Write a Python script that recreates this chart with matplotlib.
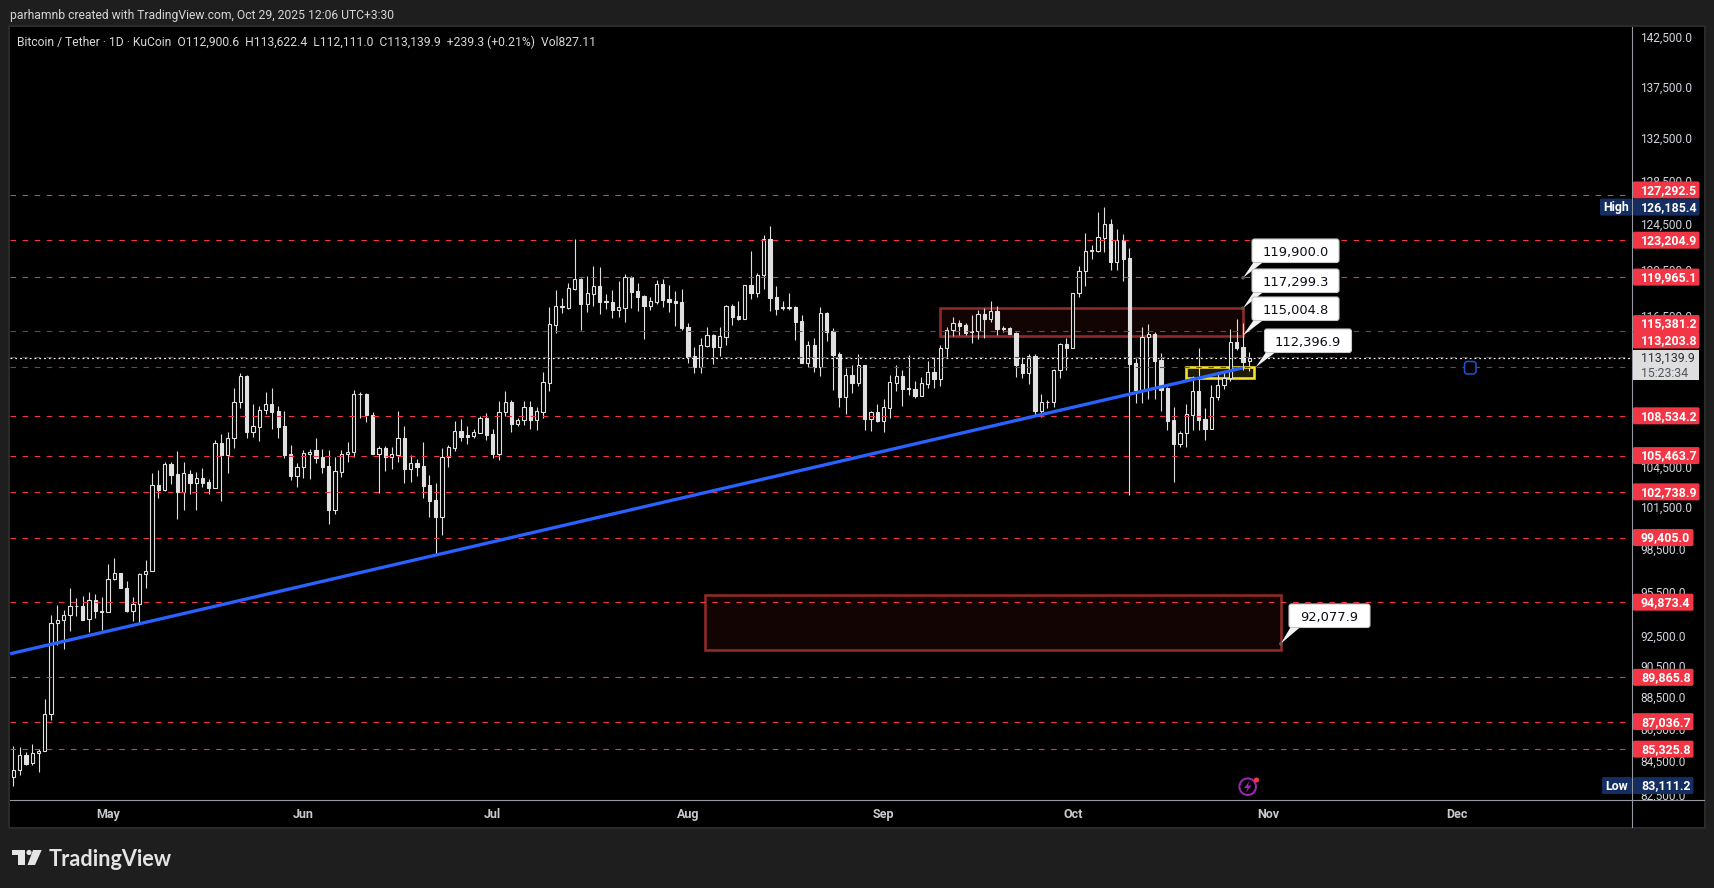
"""
BTC/USDT daily chart (KuCoin), TradingView style, with marked levels and zones
"""

import matplotlib
matplotlib.use("Agg")
import matplotlib.pyplot as plt
import matplotlib.dates as mdates
import numpy as np
import pandas as pd
from matplotlib.patches import Circle, FancyBboxPatch, Polygon, Rectangle
from matplotlib.ticker import NullLocator
from matplotlib.transforms import ScaledTranslation

plt.rcParams["font.family"] = ["Roboto", "DejaVu Sans"]

# ── Data ──────────────────────────────────────────────
START_DATE = "2025-04-16"

OPENS = [
    83612, 84041, 84959, 84449, 85081, 85204, 87540, 93471, 93671, 94005,
    94584, 94606, 93738, 95015, 94183, 94205, 96501, 96926, 95864, 94272,
    94740, 96855, 97043, 103230, 102906, 104810, 104077, 102758, 104052, 103427,
    103752, 103452, 103055, 106409, 105540, 106793, 109603, 111680, 107310, 107696,
    108974, 109445, 108895, 107722, 105565, 103952, 104580, 105616, 105871, 105337,
    104655, 101432, 104252, 105565, 105718, 110240, 110240, 108607, 105616, 106025,
    105388, 105540, 106793, 104478, 104908, 104655, 103229, 102118, 100922, 105337,
    106076, 107335, 107025, 107000, 107232, 108345, 107103, 105616, 108817, 109603,
    107929, 108188, 109210, 108214, 108869, 111172, 115926, 117385, 117357, 118976,
    119781, 117694, 118549, 119176, 117865, 117836, 117188, 117357, 119955, 118777,
    118321, 117525, 117865, 119349, 118064, 117893, 117808, 115731, 113304, 112463,
    114181, 115034, 114098, 114923, 117469, 116624, 116427, 119262, 118634, 120128,
    123318, 118235, 117357, 117357, 117385, 116204, 112787, 114209, 112435, 116877,
    115368, 113467, 110054, 111762, 111145, 112572, 108319, 108817, 108162, 109184,
    111172, 111682, 110691, 110664, 110134, 111091, 112003, 111467, 113962, 115451,
    116038, 115898, 115340, 115368, 116793, 116427, 117047, 115590, 115618, 115200,
    112679, 111977, 113304, 108948, 109603, 109603, 112164, 114290, 114016, 118577,
    120474, 122226, 122285, 123436, 124631, 121319, 123260, 121611, 112762, 110612,
    114923, 115118, 112978, 110744, 108188, 106383, 107180, 108633, 110479, 108266,
    107541, 110054, 110957, 111521, 114511, 114043, 112900.6,
]
HIGHS = [
    85536, 85473, 85163, 85662, 85326, 88486, 94005, 94673, 94361, 95817,
    95156, 95298, 95581, 95439, 95227, 97516, 97918, 96926, 96360, 95227,
    96926, 97776, 104150, 104380, 104958, 104960, 105820, 104960, 104377, 104227,
    104529, 103677, 106665, 107128, 107280, 110744, 111923, 111790, 109472, 109314,
    110426, 110744, 109314, 108895, 106281, 104908, 105897, 105974, 106818, 105974,
    105897, 105363, 105897, 106486, 110585, 110426, 110320, 108843, 106204, 106204,
    106102, 108895, 107748, 105489, 105211, 106486, 104002, 103377, 106025, 106281,
    108136, 108293, 107748, 107490, 108528, 108764, 107490, 109683, 110479, 109762,
    108345, 109683, 109683, 109236, 112000, 117385, 118862, 118178, 119435, 123318,
    119896, 120070, 120939, 120852, 118520, 118862, 119636, 120215, 120070, 119435,
    118406, 118235, 119696, 119783, 119291, 118777, 118948, 116065, 114071, 114785,
    115731, 115118, 115731, 117553, 117666, 117921, 119262, 122253, 120301, 123675,
    124482, 119205, 117921, 118606, 117497, 116736, 114566, 114813, 117385, 116990,
    115646, 113632, 112354, 112599, 113495, 112572, 108948, 109472, 109868, 111790,
    112599, 112191, 113413, 111306, 111628, 112925, 113250, 114236, 115700, 116596,
    116315, 116093, 116736, 117160, 117300, 117893, 117497, 115843, 115759, 115342,
    113277, 113495, 113467, 110267, 109789, 112272, 114373, 114785, 118577, 120939,
    123820, 122787, 125720, 126185.4, 125110, 124183, 123764, 122492, 113140, 115701,
    115954, 115342, 113549, 110850, 109210, 107387, 109472, 111708, 113962, 109131,
    110984, 112057, 112057, 115535, 116371, 116037, 113622.4,
]
LOWS = [
    83111.2, 83776, 84326, 84367, 83918, 85204, 87142, 91980, 91714, 92915,
    93916, 93649, 92848, 93783, 92982, 94205, 96407, 95841, 94183, 93582,
    93449, 95841, 97000, 102320, 102832, 103330, 100776, 101432, 102586, 101432,
    103104, 102586, 103055, 102067, 104177, 106050, 109157, 106820, 106895, 106588,
    108686, 107515, 106820, 105287, 103627, 103104, 103777, 103702, 104908, 104152,
    100389, 101115, 103852, 104984, 105363, 108371, 108059, 105590, 102660, 104302,
    104453, 105008, 103402, 103502, 103927, 102291, 100922, 98166, 99594, 104605,
    105846, 106588, 106358, 106818, 107180, 106665, 105287, 105135, 108502, 107283,
    107748, 107825, 107515, 107438, 108371, 110505, 115229, 116905, 117272, 118891,
    115470, 116990, 117497, 116821, 117244, 116484, 116568, 116148, 117328, 117075,
    114730, 117160, 117638, 117413, 116990, 115815, 115479, 112762, 111950, 111950,
    114071, 112680, 113331, 114236, 115898, 116315, 116427, 118093, 118235, 118948,
    117075, 116736, 117160, 117160, 114648, 112787, 112434, 112030, 111708, 114566,
    110585, 109236, 108686, 110346, 110904, 107438, 107361, 108059, 107283, 108371,
    110505, 109314, 110187, 109948, 110107, 110718, 110744, 110932, 113170, 115006,
    115088, 115061, 114428, 114730, 114785, 116120, 115061, 115312, 115145, 111654,
    111521, 111064, 108607, 108476, 109131, 109262, 111574, 112191, 114016, 118235,
    119205, 121553, 122138, 122197, 120589, 120589, 119667, 102512, 109577, 109577,
    109868, 109868, 108948, 107437, 103502, 106153, 106153, 107437, 107437, 106665,
    107541, 109789, 110664, 111333, 113824, 112191, 112111.0,
]
CLOSES = [
    84041, 84959, 84428, 85081, 85204, 87540, 93471, 93649, 93983, 94606,
    94606, 93694, 95015, 94250, 94272, 96501, 96926, 95841, 94250, 94740,
    96855, 97043, 103230, 102880, 104807, 104027, 102709, 104127, 103427, 103752,
    103427, 103055, 106409, 105515, 106793, 109603, 111682, 107310, 107722, 108974,
    109445, 108869, 107696, 105515, 103952, 104579, 105641, 105769, 105312, 104630,
    101432, 104277, 105565, 105718, 110240, 110267, 108607, 105616, 106025, 105388,
    105565, 106793, 104478, 104883, 104630, 103204, 102092, 100922, 105363, 106102,
    107335, 106921, 106921, 107258, 108345, 107077, 105616, 108817, 109603, 107903,
    108188, 109210, 108214, 108895, 111198, 115954, 117469, 117469, 119005, 119781,
    117694, 118577, 119176, 117865, 117893, 117188, 117385, 119955, 118720, 118264,
    117497, 117893, 119349, 118007, 117836, 117780, 115676, 113247, 112462, 114209,
    115034, 114098, 114951, 117469, 116596, 116399, 119262, 118606, 120128, 123318,
    118178, 117244, 117385, 117385, 116176, 112787, 114209, 112435, 116877, 115340,
    113413, 110054, 111762, 111145, 112572, 108293, 108817, 108136, 109210, 111198,
    111682, 110691, 110718, 110107, 111118, 112003, 111467, 113962, 115451, 116038,
    115843, 115200, 115368, 116821, 116399, 117047, 115590, 115618, 115173, 112598,
    111977, 113304, 108948, 109603, 109630, 112164, 114290, 114016, 118577, 120474,
    122226, 122315, 123466, 124631, 121319, 123260, 121553, 112708, 110585, 114923,
    115118, 112951, 110612, 108162, 106383, 107180, 108659, 110479, 108240, 107541,
    110054, 110957, 111521, 114511, 114016, 112869, 113139.9,
]

LEVELS = [127292.5, 123204.9, 119965.1, 115381.2, 113203.8, 108534.2, 105463.7,
          102738.9, 99405.0, 94873.4, 89865.8, 87036.7, 85325.8]
DIM_LEVELS = [115381.2, 113203.8, 112396.9]
UNLABELLED_LEVEL = 112396.9
LAST_PRICE = 113139.9
HIGH_PRICE = 126185.4
LOW_PRICE = 83111.2

PRICE_TICKS = [142500, 137500, 132500, 128500, 124500, 120500, 116500, 104500,
               101500, 98500, 95500, 92500, 90500, 88500, 86500, 84500, 82500]
MONTH_TICKS = ["2025-05-01", "2025-06-01", "2025-07-01", "2025-08-01",
               "2025-09-01", "2025-10-01", "2025-11-01", "2025-12-01"]
MONTH_LABELS = ["May", "Jun", "Jul", "Aug", "Sep", "Oct", "Nov", "Dec"]

TREND_DATES = ["2025-04-15 12:00", "2025-10-28"]
TREND_PRICES = [91407, 112360]

RED_ZONE_DATES = ["2025-09-10", "2025-10-28"]
RED_ZONE_PRICES = [115004.8, 117299.3]
LOW_ZONE_DATES = ["2025-08-03 16:00", "2025-11-03"]
LOW_ZONE_PRICES = [91670, 95380]
YELLOW_ZONE_DATES = ["2025-10-19", "2025-10-29 18:00"]
YELLOW_ZONE_PRICES = [111500, 112396.9]

HEADER = "parhamnb created with TradingView.com, Oct 29, 2025 12:06 UTC+3:30"
LEGEND = ("Bitcoin / Tether · 1D · KuCoin  O112,900.6  H113,622.4  L112,111.0  "
          "C113,139.9  +239.3 (+0.21%)  Vol827.11")

# ── Style ─────────────────────────────────────────────
W, H = 1714, 888
BG = "#1e1e1e"
BODY = "#e0e0e0"
RED = "#f23645"
DIM_RED = "#b02a36"
NAVY = "#142e61"
AXIS_LINE = "#9598a1"
TICK_TEXT = "#d1d4dc"
PLOT_L, PLOT_R, PLOT_T, PLOT_B = 10, 1632, 27, 800
PX = 0.72  # one pixel in points at dpi 100

fig = plt.figure(figsize=(W / 100, H / 100), dpi=100, facecolor=BG)
fig.add_artist(Rectangle((8.5 / W, 1 - 828 / H), 1696 / W, 802 / H, transform=fig.transFigure,
                         facecolor="black", edgecolor="#2a2a2a", linewidth=1.5, zorder=-1))

ax = fig.add_axes([PLOT_L / W, 1 - PLOT_B / H, (PLOT_R - PLOT_L) / W, (PLOT_B - PLOT_T) / H], zorder=1)
ax.set_facecolor("black")
ax.set_yscale("log")

dates = pd.date_range(START_DATE, periods=len(CLOSES), freq="D")
x = mdates.date2num(dates)
opens, highs, lows, closes = map(np.array, (OPENS, HIGHS, LOWS, CLOSES))


def num(day):
    return mdates.date2num(pd.Timestamp(day))


# ── Candles ───────────────────────────────────────────
ax.vlines(x, lows, highs, color=BODY, linewidth=1.1 * PX, zorder=2)
up = closes >= opens
body_low = np.minimum(opens, closes)
body_height = np.maximum(np.abs(closes - opens), 1)
ax.bar(x[up], body_height[up], bottom=body_low[up], width=0.52, facecolor="black",
       edgecolor=BODY, linewidth=1.1 * PX, zorder=3)
ax.bar(x[~up], body_height[~up], bottom=body_low[~up], width=0.52, facecolor=BODY,
       edgecolor=BODY, linewidth=1.1 * PX, zorder=3)


# ── Levels, zones, trendline ──────────────────────────
def add_zone(days, prices, edge, fill, zorder):
    left, right = num(days[0]), num(days[1])
    ax.add_patch(Rectangle((left, prices[0]), right - left, prices[1] - prices[0],
                           facecolor=fill, edgecolor=edge, linewidth=2.6 * PX, zorder=zorder))


add_zone(RED_ZONE_DATES, RED_ZONE_PRICES, "#8f2a28", "#130404", 1.5)
add_zone(LOW_ZONE_DATES, LOW_ZONE_PRICES, "#8f2a28", "#130404", 1.5)
add_zone(YELLOW_ZONE_DATES, YELLOW_ZONE_PRICES, "#f5e12c", "#1e1a05", 1.5)

for level in LEVELS + [UNLABELLED_LEVEL]:
    ax.axhline(level, color=DIM_RED if level in DIM_LEVELS else RED,
               linewidth=1.1 * PX, linestyle=(0, (5, 6)), zorder=4)
ax.axhline(LAST_PRICE, color="white", linewidth=1.2 * PX, linestyle=(0, (1.5, 2.5)), zorder=4.5)

ax.plot([num(d) for d in TREND_DATES], TREND_PRICES, color="#2962ff",
        linewidth=3.3 * PX, solid_capstyle="butt", zorder=5)

# ── Axes ──────────────────────────────────────────────
ax.set_xlim(x[0] - (13.3 - PLOT_L) / 6.306, x[0] + (PLOT_R - 13.3) / 6.306)
ax.set_ylim(82250, 143700)
for side in ax.spines:
    ax.spines[side].set_visible(False)

ax.yaxis.tick_right()
ax.yaxis.set_minor_locator(NullLocator())
ax.set_yticks(PRICE_TICKS, [f"{p:,.1f}" for p in PRICE_TICKS])
ax.tick_params(axis="y", length=0, pad=6, labelsize=8.6, labelcolor=TICK_TEXT)
nudge = ScaledTranslation(0, 1.5 / 100, fig.dpi_scale_trans)
for tick in ax.yaxis.get_major_ticks():
    tick.label2.set_transform(tick.label2.get_transform() + nudge)
ax.set_xticks([num(d) for d in MONTH_TICKS], MONTH_LABELS, fontweight="bold")
ax.xaxis.set_minor_locator(NullLocator())
ax.tick_params(axis="x", length=0, pad=5.5, labelsize=9, labelcolor="#c8cad0")

# ── Overlay in pixels: price tags, callouts, logo ─────
ov = fig.add_axes([0, 0, 1, 1], facecolor="none", zorder=5)
ov.set_axis_off()
ov.set_xlim(0, W)
ov.set_ylim(H, 0)


def to_px(day, price):
    px, py = ax.transData.transform((num(day), price))
    return px, H - py


def price_px(price):
    return to_px(START_DATE, price)[1]


ov.add_patch(Rectangle((PLOT_R, PLOT_B), 72, 27, facecolor="black", edgecolor="none", zorder=1))
ov.plot([PLOT_L, 1704], [PLOT_B, PLOT_B], color=AXIS_LINE, linewidth=1.1 * PX, zorder=2)
ov.plot([PLOT_R, PLOT_R], [PLOT_T, 827], color=AXIS_LINE, linewidth=1.1 * PX, zorder=2)

# 标签错开的价位（像素偏移）
TAG_SHIFT = {127292.5: -5, 115381.2: -7.5, 113203.8: -17.5}


def price_tag(price, fill, shift=0.0):
    yc = price_px(price) + shift
    text = f"{price:,.1f}"
    width = 66.5 if price >= 100000 else 60.5
    ov.add_patch(FancyBboxPatch((PLOT_R + 1, yc - 8.5), width, 17, boxstyle="round,pad=0,rounding_size=1.5",
                                facecolor=fill, edgecolor="none", zorder=4))
    ov.text(PLOT_R + 9, yc - 1, text, color="white", fontsize=8.9, fontweight="bold",
            ha="left", va="center_baseline", zorder=5)


for level in LEVELS:
    price_tag(level, RED, TAG_SHIFT.get(level, 0.0))

price_tag(HIGH_PRICE, NAVY)
price_tag(LOW_PRICE, NAVY)
for price, name, left in ((HIGH_PRICE, "High", 1600), (LOW_PRICE, "Low", 1602)):
    yc = price_px(price)
    ov.add_patch(FancyBboxPatch((left, yc - 8.5), PLOT_R - left, 17,
                                boxstyle="round,pad=0,rounding_size=1.5",
                                facecolor=NAVY, edgecolor="none", zorder=4))
    ov.text((left + PLOT_R) / 2, yc - 1, name, color="white", fontsize=8.9, fontweight="bold",
            ha="center", va="center_baseline", zorder=5)

# 现价标签
last_y = price_px(LAST_PRICE)
ov.add_patch(Rectangle((PLOT_R + 1, last_y - 8.5), 66.5, 30.5, facecolor="#dedede",
                       edgecolor="none", zorder=4))
ov.text(PLOT_R + 9, last_y - 1, f"{LAST_PRICE:,.1f}", color="#2a2e39", fontsize=8.8,
        ha="left", va="center_baseline", zorder=5)
ov.text(PLOT_R + 9, last_y + 13.5, "15:23:34", color="#50535e", fontsize=8.8,
        ha="left", va="center_baseline", zorder=5)


def callout(price, day, left, top, dot=False):
    ax_x, ax_y = to_px(day, price)
    box_w = 87 if price >= 100000 else 81
    right, bottom = left + box_w, top + 23.5
    ov.add_patch(Polygon([(left + 2, bottom - 1), (left + 12, bottom - 1), (ax_x, ax_y)],
                         closed=True, facecolor="#f2f2f2", edgecolor="none", zorder=6))
    ov.add_patch(FancyBboxPatch((left, top), right - left, bottom - top,
                                boxstyle="round,pad=0,rounding_size=2.5", facecolor="white",
                                edgecolor="#c8c8c8", linewidth=1.1 * PX, zorder=7))
    ov.text((left + right) / 2, (top + bottom) / 2, f"{price:,.1f}", color="#0c0f18",
            fontsize=9.4, family="DejaVu Sans", ha="center", va="center_baseline", zorder=8)
    if dot:
        ov.add_patch(Circle((ax_x, ax_y), 1.8, facecolor="#5a5a5a", edgecolor="none", zorder=6.5))


callout(119900.0, "2025-10-28", 1252, 239, dot=True)
callout(117299.3, "2025-10-28", 1252, 269, dot=True)
callout(115004.8, "2025-10-28", 1252, 297)
callout(112396.9, "2025-10-30", 1264.5, 329)
callout(92077.9, "2025-11-03", 1289, 604, dot=True)

# 图标
ov.add_patch(FancyBboxPatch((1464.5, 361.5), 11.5, 12.5, boxstyle="round,pad=0,rounding_size=3",
                            facecolor="black", edgecolor="#2050c8", linewidth=1.6 * PX, zorder=6))
ov.add_patch(Circle((1247.7, 786.7), 8.3, facecolor="none", edgecolor="#9c27b0",
                    linewidth=2 * PX, zorder=6))
ov.add_patch(Polygon([(1249.5, 781), (1244, 788), (1247.5, 788), (1246, 792.5), (1251.5, 785.5),
                      (1248, 785.5)], closed=True, facecolor="#9c27b0", edgecolor="none", zorder=6))
ov.add_patch(Circle((1256.5, 780), 2.6, facecolor=RED, edgecolor="none", zorder=7))

ov.text(10, 14.5, HEADER, color="#d6d6d6", fontsize=8.7, ha="left", va="center_baseline")
ov.text(17.5, 40.5, LEGEND, color="#d8d8d8", fontsize=8.7, ha="left", va="center_baseline")

# TradingView 标志
LOGO = "#e4e4e4"
ov.add_patch(Polygon([(12, 850), (25, 850), (25, 865), (18, 865), (18, 855), (12, 855)],
                     closed=True, facecolor=LOGO, edgecolor="none"))
ov.add_patch(Circle((29, 852.5), 2.6, facecolor=LOGO, edgecolor="none"))
ov.add_patch(Polygon([(33, 850), (41.7, 850), (35, 865), (27.5, 865)], closed=True,
                     facecolor=LOGO, edgecolor="none"))
ov.text(49, 857, "TradingView", color=LOGO, fontsize=15.6, family="Lato", fontweight="bold",
        ha="left", va="center_baseline")

fig.savefig("out.png", dpi=100, facecolor=BG)
